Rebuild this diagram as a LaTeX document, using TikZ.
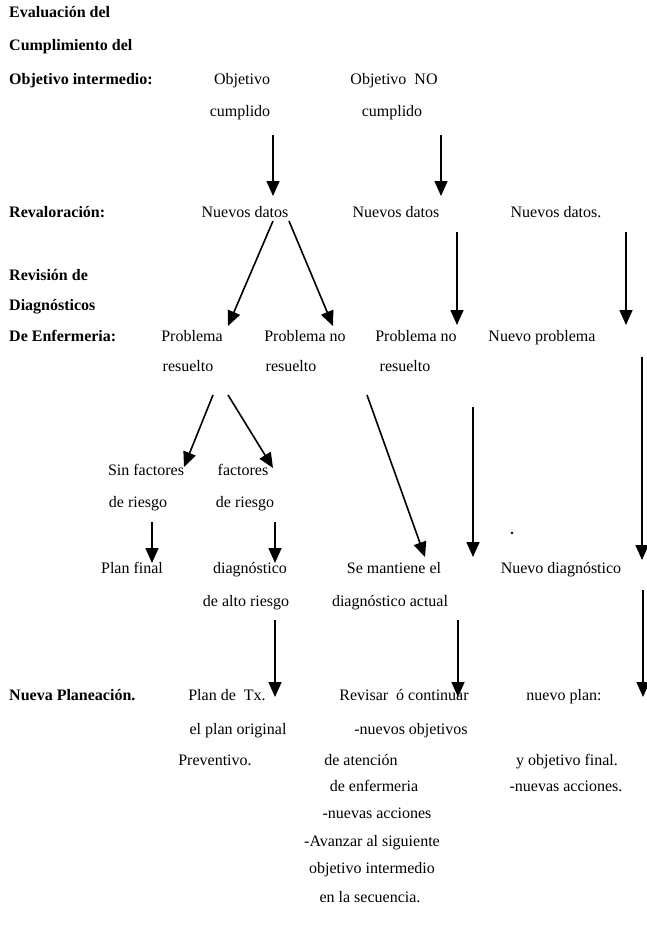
\documentclass[tikz,border=0pt]{standalone}
\usepackage{fontspec}
\setmainfont{Liberation Serif}
\usetikzlibrary{arrows.meta}
\begin{document}
\begin{tikzpicture}[x=1pt,y=-1pt,
  lab/.style={font=\fontsize{16}{19}\selectfont\bfseries, anchor=base west, inner sep=0pt},
  txt/.style={font=\fontsize{16}{19}\selectfont, anchor=base, inner sep=0pt},
  arr/.style={line width=1.6pt, -{Triangle[length=15pt,width=13pt]}}]
\useasboundingbox[fill=white] (0,0) rectangle (647,930);

% left column labels
\node[lab] (l1) at (9,17) {Evaluación del};
\node[lab] (l2) at (9,50) {Cumplimiento del};
\node[lab] (l3) at (9,84) {Objetivo intermedio:};
\node[lab] (l4) at (9,217) {Revaloración:};
\node[lab] (l5) at (9,280) {Revisión de};
\node[lab] (l6) at (9,310) {Diagnósticos};
\node[lab] (l7) at (9,341) {De Enfermeria:};
\node[lab] (l8) at (9,700) {Nueva Planeación.};

% row 1
\node[txt] (oc1) at (242,84) {Objetivo};
\node[txt] (oc2) at (240,116) {cumplido};
\node[txt] (on1) at (394,84) {Objetivo\ \ NO};
\node[txt] (on2) at (392,116) {cumplido};

% row 2
\node[txt] (nd1) at (245,217) {Nuevos datos};
\node[txt] (nd2) at (396,217) {Nuevos datos};
\node[txt] (nd3) at (556,217) {Nuevos datos.};

% row 3
\node[txt] (pr1) at (192,341) {Problema};
\node[txt] (pr1b) at (188,371) {resuelto};
\node[txt] (pn1) at (305,341) {Problema no};
\node[txt] (pn1b) at (291,371) {resuelto};
\node[txt] (pn2) at (416,341) {Problema no};
\node[txt] (pn2b) at (405,371) {resuelto};
\node[txt] (np) at (542,341) {Nuevo problema};

% row 4
\node[txt] (sf1) at (146,475) {Sin factores};
\node[txt] (sf2) at (138,507) {de riesgo};
\node[txt] (fr1) at (243,475) {factores};
\node[txt] (fr2) at (245,507) {de riesgo};

% row 5
\node[txt] (pf) at (132,573) {Plan final};
\node[txt] (da1) at (250,573) {diagnóstico};
\node[txt] (da2) at (246,606) {de alto riesgo};
\node[txt] (sm1) at (394,573) {Se mantiene el};
\node[txt] (sm2) at (390,606) {diagnóstico actual};
\node[txt] (ndg) at (561,573) {Nuevo diagnóstico};

% row 6
\node[txt] (pt1) at (227,700) {Plan de\ \ Tx.};
\node[txt] (pt2) at (238,734) {el plan original};
\node[txt] (pt3) at (215,765) {Preventivo.};

\node[txt] (rc1) at (404,700) {Revisar\ \ ó continuar};
\node[txt] (rc2) at (411,734) {-nuevos objetivos};
\node[txt] (rc3) at (361,765) {de atención};
\node[txt] (rc4) at (374,791) {de enfermeria};
\node[txt] (rc5) at (377,818) {-nuevas acciones};
\node[txt] (rc6) at (372,846) {-Avanzar al siguiente};
\node[txt] (rc7) at (372,873) {objetivo intermedio};
\node[txt] (rc8) at (370,902) {en la secuencia.};

\node[txt] (nv1) at (564,700) {nuevo plan:};
\node[txt] (nv2) at (567,765) {y objetivo final.};
\node[txt] (nv3) at (566,791) {-nuevas acciones.};

% arrow end points
\coordinate (a1s) at (273,135);  \coordinate (a1e) at (273,196);
\coordinate (a2s) at (441,135);  \coordinate (a2e) at (441,196);
\coordinate (a3s) at (273,221);  \coordinate (a3e) at (228,326);
\coordinate (a4s) at (289,221);  \coordinate (a4e) at (333,326);
\coordinate (a5s) at (457,232);  \coordinate (a5e) at (457,325);
\coordinate (a6s) at (626,232);  \coordinate (a6e) at (626,325);
\coordinate (a7s) at (642,357);  \coordinate (a7e) at (642,560);
\coordinate (a8s) at (213,395);  \coordinate (a8e) at (184,467);
\coordinate (a9s) at (228,395);  \coordinate (a9e) at (273,468);
\coordinate (a10s) at (367,395); \coordinate (a10e) at (425,557);
\coordinate (a11s) at (473,407); \coordinate (a11e) at (473,557);
\coordinate (a12s) at (152,522); \coordinate (a12e) at (152,563);
\coordinate (a13s) at (275,522); \coordinate (a13e) at (275,563);
\coordinate (a14s) at (275,620); \coordinate (a14e) at (275,697);
\coordinate (a15s) at (458,620); \coordinate (a15e) at (458,697);
\coordinate (a16s) at (643,590); \coordinate (a16e) at (643,697);

\foreach \i in {1,...,16} \draw[arr] (a\i s) -- (a\i e);

% stray dot
\coordinate (dot) at (512,533);
\fill (dot) circle (1.3pt);
\end{tikzpicture}
\end{document}
